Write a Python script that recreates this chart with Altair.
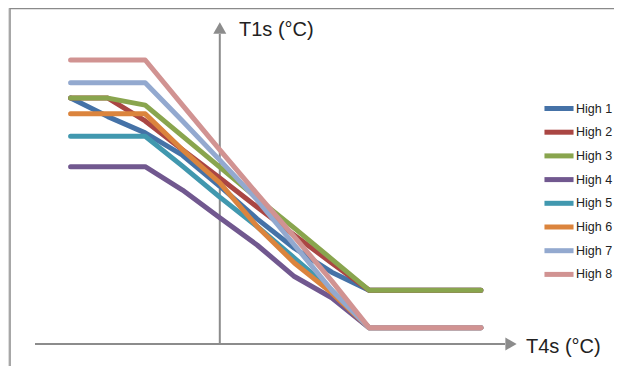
import altair as alt
import pandas as pd

t4s = [-4, -3, -2, -1, 0, 1, 2, 3, 4, 7]
series_names = ["High 1", "High 2", "High 3", "High 4", "High 5", "High 6", "High 7", "High 8"]
high1 = [45.2, 41.8, 38.8, 34.7, 29.0, 23.0, 17.6, 13.2, 9.9, 9.9]
high2 = [45.2, 45.2, 41.0, 35.7, 30.5, 25.2, 20.0, 14.9, 9.9, 9.9]
high3 = [45.2, 45.2, 43.9, 38.2, 32.5, 26.8, 21.3, 15.6, 9.9, 9.9]
high4 = [32.6, 32.6, 32.6, 28.3, 23.2, 18.2, 12.4, 8.5, 3.0, 3.0]
high5 = [38.2, 38.2, 38.2, 32.7, 27.0, 21.6, 15.8, 9.9, 3.0, 3.0]
high6 = [42.3, 42.3, 42.3, 35.7, 29.6, 21.6, 14.9, 9.4, 3.0, 3.0]
high7 = [48.0, 48.0, 48.0, 41.0, 33.8, 26.5, 18.2, 9.9, 3.0, 3.0]
high8 = [52.2, 52.2, 52.2, 43.9, 35.7, 27.6, 19.7, 11.6, 3.0, 3.0]
colors = ["#4572A7", "#AA4643", "#89A54E", "#71588F", "#4198AF", "#DB843D", "#93A9CF", "#D19392"]

rows = []
for name, vals in zip(series_names, [high1, high2, high3, high4, high5, high6, high7, high8]):
    for i, (x, y) in enumerate(zip(t4s, vals)):
        rows.append({"series": name, "t4s": x, "t1s": y, "order": i})
df = pd.DataFrame(rows)

W, H = 606, 358
xs = alt.Scale(domain=[-5.678, 10.568], nice=False, zero=False)
ys = alt.Scale(domain=[-4.044, 61.76], nice=False, zero=False)
FONT = "Liberation Sans"
AX = "#8c8c8c"

lines = alt.Chart(df).mark_line(strokeWidth=5, strokeCap="round", strokeJoin="round").encode(
    x=alt.X("t4s:Q", scale=xs, axis=None),
    y=alt.Y("t1s:Q", scale=ys, axis=None),
    color=alt.Color("series:N", scale=alt.Scale(domain=series_names, range=colors),
                    legend=alt.Legend(title=None, orient="none", legendX=539, legendY=88.5,
                                      symbolType="M-1.53,0H1.53", symbolStrokeWidth=5, symbolSize=361,
                                      labelFont=FONT, labelFontSize=12.5, labelColor="#222222",
                                      rowPadding=1.7, labelOffset=5)),
    order="order:Q",
)

origin = alt.Chart(pd.DataFrame({"ox": [0], "oy": [0]}))
base = alt.Chart(pd.DataFrame({"a": [0]}))

xaxis = origin.mark_rule(color=AX, strokeWidth=2).encode(
    x=alt.value(27), x2=alt.value(497), y=alt.Y("oy:Q", scale=ys, axis=None))
yaxis = origin.mark_rule(color=AX, strokeWidth=2).encode(
    x=alt.X("ox:Q", scale=xs, axis=None), y=alt.value(335), y2=alt.value(26))
xarrow = origin.mark_point(shape="triangle-right", filled=True, color=AX, opacity=1, size=170).encode(
    x=alt.value(503), y=alt.Y("oy:Q", scale=ys, axis=None))
yarrow = origin.mark_point(shape="triangle-up", filled=True, color=AX, opacity=1, size=170).encode(
    x=alt.X("ox:Q", scale=xs, axis=None), y=alt.value(20))

ylab = base.mark_text(text="T1s (°C)", font=FONT, fontSize=20, align="left", baseline="middle", color="#222222").encode(
    x=alt.value(231), y=alt.value(22))
xlab = base.mark_text(text="T4s (°C)", font=FONT, fontSize=20, align="left", baseline="middle", color="#222222").encode(
    x=alt.value(518), y=alt.value(339))

border_top = base.mark_rule(color="#8a8a8a", strokeWidth=1.5).encode(
    x=alt.value(2), x2=alt.value(W), y=alt.value(0.5))
border_left = base.mark_rule(color="#8a8a8a", strokeWidth=1.5).encode(
    x=alt.value(2), y=alt.value(0), y2=alt.value(H))

chart = alt.layer(border_top, border_left, xaxis, yaxis, xarrow, yarrow, lines, ylab, xlab).properties(
    width=W, height=H, padding=0, autosize=alt.AutoSizeParams(type="none")
).configure_view(stroke=None).configure(background="white")

chart.save("out.html", embed_options={"renderer": "svg", "actions": False})
